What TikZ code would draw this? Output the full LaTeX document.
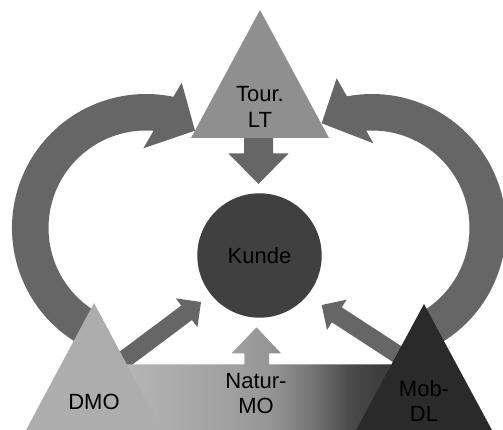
\documentclass[tikz,border=0pt]{standalone}
\usepackage{fontspec}
\setmainfont{Liberation Sans}
\usetikzlibrary{calc}
\definecolor{arrowgray}{gray}{0.40}
\definecolor{topgray}{gray}{0.56}
\definecolor{dmogray}{gray}{0.68}
\definecolor{mobgray}{gray}{0.165}
\definecolor{kundegray}{gray}{0.25}
\definecolor{nsa}{gray}{0.722}
\definecolor{nsb}{gray}{0.690}
\definecolor{nsc}{gray}{0.627}
\definecolor{nsd}{gray}{0.584}
\definecolor{nse}{gray}{0.467}
\definecolor{nsf}{gray}{0.290}
\definecolor{nsg}{gray}{0.235}
\definecolor{nsh}{gray}{0.220}
\pgfdeclarehorizontalshading{natur}{100bp}{color(0bp)=(nsa); color(25bp)=(nsa); color(31.7bp)=(nsb); color(45bp)=(nsc); color(51.7bp)=(nsd); color(58.3bp)=(nse); color(65bp)=(nsf); color(70.5bp)=(nsg); color(75bp)=(nsh); color(100bp)=(nsh)}
\begin{document}
\begin{tikzpicture}[x=1pt,y=1pt,
  lbl/.style={font=\fontsize{22}{25.5}\selectfont, align=center, inner sep=0pt, text=black},
  blockarrow/.style={fill=arrowgray}]
\useasboundingbox (0,0) rectangle (503,430);
\fill[white] (0,0) rectangle (503,430);
\coordinate (cl) at (146,202);
\coordinate (cr) at (372,202);
% curved arrows
\fill[blockarrow] ([shift={(238:134)}]cl) arc[start angle=238, end angle=78.2, radius=134]
  -- (181.7,347.3) -- (195,299.3) -- (143.3,281.7)
  -- ([shift={(85.56:97.5)}]cl) arc[start angle=85.56, end angle=238, radius=97.5] -- cycle;
\fill[blockarrow] ([shift={(-58:134)}]cr) arc[start angle=-58, end angle=100.8, radius=134]
  -- (336.7,351.7) -- (321.7,306.7) -- (373.3,286.7)
  -- ([shift={(93.4:97.5)}]cr) arc[start angle=93.4, end angle=-58, radius=97.5] -- cycle;
% diagonal arrows
\fill[blockarrow] (107.1,69) -- (181.2,124.4) -- (175.8,131.6) -- (201,128) -- (197.4,102.8) -- (192,110) -- (117.9,54.6) -- cycle;
\fill[blockarrow] (404.7,60.3) -- (331.9,107.7) -- (327,100.1) -- (321.7,125) -- (346.6,130.3) -- (341.7,122.7) -- (414.5,75.3) -- cycle;
% down arrow
\fill[blockarrow] (244,296) -- (244,276.5) -- (228.5,276.5) -- (258.5,246) -- (288.5,276.5) -- (273,276.5) -- (273,296) -- cycle;
% gradient bar with up arrow
\shade[shading=natur] (110,-2) -- (410,-2) -- (410,65.7) -- (269,65.7) -- (269,76.7) -- (281,76.7) -- (256.5,102.7) -- (231.7,76.7) -- (244.3,76.7) -- (244.3,65.7) -- (110,65.7) -- cycle;
% triangles
\fill[topgray] (260,420) -- (191,292) -- (329,292) -- cycle;
\fill[dmogray] (94,127) -- (25,-2) -- (163,-2) -- cycle;
\fill[mobgray] (424,126) -- (355,-2) -- (493,-2) -- cycle;
% circle
\node[circle, fill=kundegray, minimum size=124.4pt, inner sep=0pt, lbl] (kunde) at (259.5,174.5) {Kunde};
% labels
\node[lbl] (tour) at (260,322.9) {Tour.\\LT};
\node[lbl] (natur) at (256,36.7) {Natur-\\MO};
\node[lbl, anchor=base] (dmo) at (94,20) {DMO};
\node[lbl] (mob) at (424,28.9) {Mob-\\DL};
\end{tikzpicture}
\end{document}
